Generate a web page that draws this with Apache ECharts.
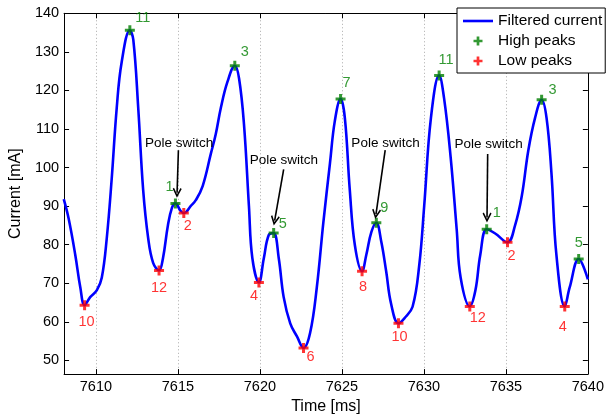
<!DOCTYPE html>
<html>
<head>
<meta charset="utf-8">
<script src="https://cdn.jsdelivr.net/npm/echarts@6/dist/echarts.min.js"></script>
<style>
  html, body { margin: 0; padding: 0; background: #fff; }
  #peaks { width: 607px; height: 420px; }
</style>
</head>
<body>
<div id="peaks"></div>
<script>
// filtered current trace
var curveTime = [
  7608.04, 7608.34, 7608.74, 7609.05, 7609.31, 7609.65, 7610.06, 7610.36, 7610.66, 7610.96,
  7611.27, 7611.57, 7612.07, 7612.28, 7612.58, 7612.88, 7613.19, 7613.49, 7613.85, 7614.09,
  7614.39, 7614.64, 7614.85, 7615.16, 7615.36, 7615.8, 7616.1, 7616.51, 7617.01, 7617.31,
  7617.62, 7618.02, 7618.47, 7618.73, 7619.03, 7619.33, 7619.54, 7619.94, 7620.24, 7620.54,
  7620.84, 7621.15, 7621.45, 7621.85, 7622.26, 7622.66, 7623.06, 7623.47, 7623.87, 7624.27,
  7624.57, 7624.92, 7625.18, 7625.48, 7625.79, 7626.23, 7626.49, 7626.8, 7627.1, 7627.4,
  7627.7, 7628.0, 7628.45, 7628.81, 7629.31, 7629.72, 7630.02, 7630.43, 7630.93, 7631.23,
  7631.63, 7632.0, 7632.24, 7632.8, 7633.14, 7633.44, 7633.83, 7634.35, 7635.1, 7635.56,
  7635.97, 7636.37, 7636.78, 7637.18, 7637.48, 7637.78, 7638.08, 7638.59, 7638.89, 7639.44,
  7640.0
];
var curveCurrent = [
  91.8, 86.7, 77.4, 68.9, 64.3, 66.4, 68.2, 71.5, 81.6, 96.9,
  115.5, 127.3, 135.6, 133.2, 115.5, 94.3, 81.6, 75.3, 73.3, 76.5,
  85.0, 89.6, 90.7, 88.8, 88.2, 90.1, 91.6, 95.2, 103.6, 108.7,
  115.5, 122.2, 126.4, 123.1, 111.2, 90.1, 76.5, 70.2, 76.5, 82.5,
  83.0, 76.5, 66.4, 59.6, 56.2, 53.2, 57.1, 68.9, 85.8, 101.0,
  112.1, 117.8, 112.9, 94.3, 79.9, 73.1, 77.4, 83.3, 85.7, 80.8,
  73.1, 64.7, 59.6, 60.9, 63.9, 74.8, 90.1, 112.9, 123.9, 118.0,
  102.8, 84.0, 71.5, 64.0, 68.1, 77.4, 84.0, 82.9, 80.6, 85.0,
  92.6, 104.5, 112.9, 117.6, 112.9, 98.5, 77.4, 64.0, 68.9, 76.3,
  71.0
];

var highTime = [7612.07, 7614.85, 7618.47, 7620.84, 7624.92, 7627.1, 7630.93, 7633.83, 7637.18, 7639.44];
var highCurrent = [135.6, 90.7, 126.4, 83.0, 117.8, 85.7, 123.9, 84.0, 117.6, 76.3];
var highLabels = ['11', '1', '3', '5', '7', '9', '11', '1', '3', '5'];

var lowTime = [7609.31, 7613.85, 7615.36, 7619.94, 7622.66, 7626.23, 7628.45, 7632.8, 7635.1, 7638.59];
var lowCurrent = [64.3, 73.3, 88.2, 70.2, 53.2, 73.1, 59.6, 64.0, 80.6, 64.0];
var lowLabels = ['10', '12', '2', '4', '6', '8', '10', '12', '2', '4'];

// "Pole switch" notes
var poleText = 'Pole switch';
var poleTextTime = [7615.08, 7621.46, 7627.66, 7633.95];
var poleTextCurrent = [106.3, 101.8, 106.3, 106.0];
var arrowFromTime = [7615.03, 7621.45, 7627.64, 7633.89];
var arrowFromCurrent = [104.5, 99.5, 104.5, 103.5];
var arrowToTime = [7614.95, 7620.90, 7627.08, 7633.85];
var arrowToCurrent = [93.45, 86.24, 87.94, 87.05];

var xTicks = { min: 7608.06, max: 7640 };
var yTicks = { min: 46.44, max: 140 };

// label placement next to each marker (pixels)
var highLabelOffset = [[13, -12], [-6, -16], [10, -14], [9, -9], [6, -16], [8, -15], [7, -15], [10, -16], [11, -10], [0, -16]];
var lowLabelOffset = [[2, 17], [0, 17], [4, 13], [-5, 14], [7, 9], [1, 16], [1, 14], [8, 12], [4, 14], [-2, 21]];

var FONT = 'Liberation Sans, Arial, Helvetica, sans-serif';
var PLUS = 'path://M3.5,0H6.5V3.5H10V6.5H6.5V10H3.5V6.5H0V3.5H3.5Z';
var HEAD = 'path://M5,0L10,9L8.6,10L5,3.6L1.4,10L0,9Z';
var DASH = 'path://M0,0H30V2.6H0Z';

function zip(a, b) {
  return a.map(function (v, i) { return [v, b[i]]; });
}
function peakItems(t, c, off) {
  return t.map(function (v, i) {
    return { value: [v, c[i]], label: { offset: off[i] } };
  });
}

var boxAxis = {
  axisLine: { show: true, onZero: false, lineStyle: { color: '#000', width: 1 } },
  axisTick: { show: true, inside: true, length: 5, lineStyle: { color: '#000' } }
};

var options = {
  animation: false,
  backgroundColor: '#fff',
  textStyle: { fontFamily: FONT },
  grid: { left: 62, right: 17, top: 13.3, bottom: 38.3 },
  legend: {
    orient: 'vertical',
    left: 457,
    top: 8,
    padding: [5, 3, 4, 6],
    itemGap: 4,
    itemWidth: 30,
    itemHeight: 9,
    backgroundColor: '#fff',
    borderColor: '#000',
    borderWidth: 1,
    borderRadius: 0,
    z: 10,
    textStyle: { fontFamily: FONT, fontSize: 15.5, color: '#000' },
    data: [
      { name: 'Filtered current', icon: DASH },
      { name: 'High peaks', icon: PLUS },
      { name: 'Low peaks', icon: PLUS }
    ]
  },
  xAxis: [
    Object.assign({
      type: 'value', min: xTicks.min, max: xTicks.max, splitNumber: 6,
      name: 'Time [ms]', nameLocation: 'middle', nameGap: 19,
      nameTextStyle: { fontFamily: FONT, fontSize: 16, color: '#000' },
      axisLabel: {
        color: '#000', fontSize: 14.5, margin: 5, showMinLabel: false, fontFamily: FONT,
        formatter: function (v) { return String(v); }
      },
      splitLine: { show: true, lineStyle: { color: '#aaa', type: [1, 2.5], width: 1 } }
    }, boxAxis),
    Object.assign({
      type: 'value', position: 'top', min: xTicks.min, max: xTicks.max, splitNumber: 6,
      axisLabel: { show: false }, splitLine: { show: false }
    }, boxAxis)
  ],
  yAxis: [
    Object.assign({
      type: 'value', min: yTicks.min, max: yTicks.max, splitNumber: 10,
      name: 'Current [mA]', nameLocation: 'middle', nameGap: 33,
      nameTextStyle: { fontFamily: FONT, fontSize: 16, color: '#000' },
      axisLabel: { color: '#000', fontSize: 14.5, margin: 5, showMinLabel: false, fontFamily: FONT },
      splitLine: { show: false }
    }, boxAxis),
    Object.assign({
      type: 'value', position: 'right', min: yTicks.min, max: yTicks.max, splitNumber: 10,
      axisLabel: { show: false }, splitLine: { show: false }
    }, boxAxis)
  ],
  series: [
    {
      name: 'Filtered current',
      type: 'line',
      data: zip(curveTime, curveCurrent),
      symbol: 'none',
      smooth: 0.4,
      color: '#0000ff',
      lineStyle: { color: '#0000ff', width: 2.6 },
      markLine: {
        silent: true,
        symbol: ['none', HEAD],
        symbolSize: [9, 10],
        label: { show: false },
        lineStyle: { color: '#000', width: 1.6, type: 'solid' },
        data: arrowFromTime.map(function (t, i) {
          return [
            { coord: [t, arrowFromCurrent[i]] },
            { coord: [arrowToTime[i], arrowToCurrent[i]] }
          ];
        })
      },
      markPoint: {
        silent: true,
        symbol: 'circle',
        symbolSize: 1,
        itemStyle: { color: 'rgba(0,0,0,0)' },
        label: {
          show: true, position: 'inside', formatter: poleText,
          color: '#000', fontSize: 13.5, fontFamily: FONT
        },
        data: poleTextTime.map(function (t, i) {
          return { coord: [t, poleTextCurrent[i]] };
        })
      }
    },
    {
      name: 'High peaks',
      type: 'scatter',
      symbol: PLUS,
      symbolSize: 10,
      color: '#008000',
      itemStyle: { color: '#008000' },
      z: 3,
      label: {
        show: true, position: 'inside', color: '#008000', fontSize: 14.5, fontFamily: FONT,
        formatter: function (p) { return highLabels[p.dataIndex]; }
      },
      data: peakItems(highTime, highCurrent, highLabelOffset)
    },
    {
      name: 'Low peaks',
      type: 'scatter',
      symbol: PLUS,
      symbolSize: 10,
      color: '#ff0000',
      itemStyle: { color: '#ff0000' },
      z: 3,
      label: {
        show: true, position: 'inside', color: '#ff0000', fontSize: 14.5, fontFamily: FONT,
        formatter: function (p) { return lowLabels[p.dataIndex]; }
      },
      data: peakItems(lowTime, lowCurrent, lowLabelOffset)
    }
  ]
};

var chart = echarts.init(document.getElementById('peaks'));
chart.setOption(options);
</script>
</body>
</html>
